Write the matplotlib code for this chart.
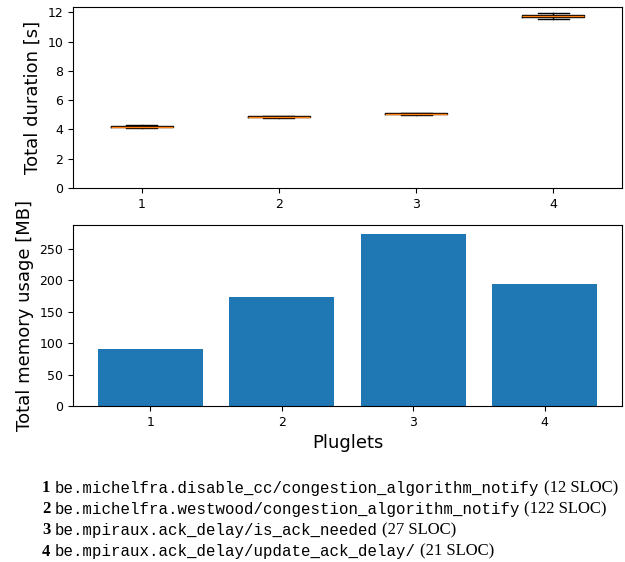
import matplotlib
matplotlib.use("Agg")
import matplotlib.pyplot as plt

# pluglet ids
pluglets = [1, 2, 3, 4]

# total duration per run [s]
durations = [
    [4.13, 4.17, 4.20, 4.24, 4.28],
    [4.76, 4.84, 4.87, 4.90, 4.95],
    [4.99, 5.05, 5.08, 5.10, 5.14],
    [11.55, 11.70, 11.77, 11.82, 11.98],
]

# total memory usage [MB]
memory = [91, 174, 274, 194]

# caption lines
names = [
    "be.michelfra.disable_cc/congestion_algorithm_notify",
    "be.michelfra.westwood/congestion_algorithm_notify",
    "be.mpiraux.ack_delay/is_ack_needed",
    "be.mpiraux.ack_delay/update_ack_delay/",
]
sloc = [12, 122, 27, 21]

fig = plt.figure(figsize=(6.25, 5.62), dpi=100)

# top: durations
ax1 = fig.add_axes([0.1168, 0.6655, 0.8784, 0.322])
ax1.boxplot(durations, positions=pluglets)
ax1.set_ylim(bottom=0)
ax1.set_ylabel("Total duration [s]", fontsize=13)
ax1.tick_params(labelsize=9)

# bottom: memory
ax2 = fig.add_axes([0.1168, 0.2776, 0.8784, 0.322])
ax2.bar(pluglets, memory)
ax2.set_xticks(pluglets)
ax2.set_ylabel("Total memory usage [MB]", fontsize=13)
ax2.set_xlabel("Pluglets", fontsize=13)
ax2.tick_params(labelsize=9)

# caption
fig.canvas.draw()
renderer = fig.canvas.get_renderer()
y0 = 562 - 488
for i, (name, n) in enumerate(zip(names, sloc)):
    y = (y0 - i * 21.2) / 562
    fig.text(42 / 625, y, str(pluglets[i]), family="Liberation Serif",
             weight="bold", fontsize=12, va="center")
    t = fig.text(55 / 625, y, name, family="Liberation Mono",
                 fontsize=11.3, va="center")
    bb = t.get_window_extent(renderer)
    fig.text((bb.x1 + 4) / 625, y, "(%d SLOC)" % n, family="Liberation Serif",
             fontsize=12, va="center")

fig.savefig("out.png", dpi=100)
